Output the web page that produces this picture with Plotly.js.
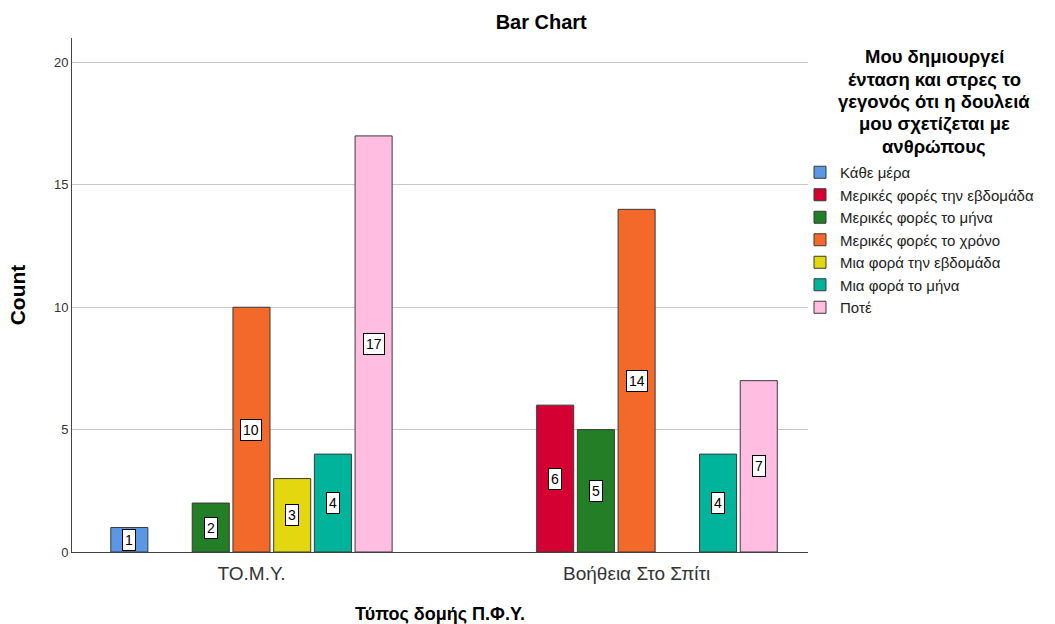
<!DOCTYPE html>
<html>
<head>
<meta charset="utf-8">
<script src="https://cdn.plot.ly/plotly-3.0.1.min.js"></script>
<style>html,body{margin:0;padding:0;background:#fff;}#chart{width:1055px;height:624px;}</style>
</head>
<body>
<div id="chart"></div>
<script>
const categories = ['ΤΟ.Μ.Υ.', 'Βοήθεια Στο Σπίτι'];
const seriesNames = [
  'Κάθε μέρα',
  'Μερικές φορές την εβδομάδα',
  'Μερικές φορές το μήνα',
  'Μερικές φορές το χρόνο',
  'Μια φορά την εβδομάδα',
  'Μια φορά το μήνα',
  'Ποτέ'
];
const kathemera = [1, null];
const merikesEvdomada = [null, 6];
const merikesMina = [2, 5];
const merikesXrono = [10, 14];
const miaEvdomada = [3, null];
const miaMina = [4, 4];
const pote = [17, 7];
const seriesValues = [kathemera, merikesEvdomada, merikesMina, merikesXrono, miaEvdomada, miaMina, pote];
const colors = ['#5a97e6', '#d50032', '#237f25', '#f2692a', '#e3d710', '#00b49b', '#ffbee1'];
const yTicks = [0, 5, 10, 15, 20];
const legendTitleLines = ['Μου δημιουργεί', 'ένταση και στρες το', 'γεγονός ότι η δουλειά', 'μου σχετίζεται με', 'ανθρώπους'];

const FONT = 'Liberation Sans, Arial, sans-serif';
const margin = {l: 72, r: 247, t: 38, b: 72};
const W = 1055, H = 624;
const xRange = [-0.466, 1.445];
const bargap = 0.26;
const plotW = W - margin.l - margin.r;
const plotH = H - margin.t - margin.b;
const slotPx = (1 - bargap) / seriesNames.length * plotW / (xRange[1] - xRange[0]);
const px2x = p => (p - margin.l) / plotW;
const px2y = p => 1 - (p - margin.t) / plotH;

const traces = seriesNames.map((name, i) => ({
  type: 'bar',
  name: name,
  x: categories,
  y: seriesValues[i],
  marker: {color: colors[i], line: {color: '#3a3a3a', width: 1}},
  hoverinfo: 'none'
}));

const annotations = [];
seriesValues.forEach((vals, i) => {
  vals.forEach((v, j) => {
    if (v === null) return;
    annotations.push({
      x: categories[j], y: v / 2, xref: 'x', yref: 'y',
      text: String(v), showarrow: false,
      xshift: (i - (seriesNames.length - 1) / 2) * slotPx,
      bgcolor: '#ffffff', bordercolor: '#000000', borderwidth: 1, borderpad: 2,
      font: {family: FONT, size: 14, color: '#000'}
    });
  });
});
legendTitleLines.forEach((line, k) => {
  annotations.push({
    x: px2x(934), y: px2y(57 + k * 22.3), xref: 'paper', yref: 'paper',
    xanchor: 'center', yanchor: 'middle', showarrow: false,
    text: '<b>' + line + '</b>',
    font: {family: FONT, size: 18.5, color: '#000'}
  });
});

const layout = {
  width: W, height: H,
  margin: margin,
  paper_bgcolor: '#fff', plot_bgcolor: '#fff',
  font: {family: FONT, color: '#000'},
  title: {text: '<b>Bar Chart</b>', x: 0.513, xref: 'container', y: 0.965, yref: 'container', yanchor: 'middle',
    font: {size: 20, color: '#000'}},
  barmode: 'group',
  bargap: bargap,
  bargroupgap: 0.09,
  xaxis: {
    type: 'category', range: xRange,
    showline: true, linecolor: '#444', linewidth: 1,
    ticks: '', showgrid: false, zeroline: false,
    ticklabelstandoff: 4,
    tickfont: {size: 19, color: '#333'},
    title: {text: '<b>Τύπος δομής Π.Φ.Υ.</b>', font: {size: 18, color: '#000'}, standoff: 24}
  },
  yaxis: {
    range: [0, 21], tickvals: yTicks, ticktext: yTicks.map(String),
    showline: true, linecolor: '#444', linewidth: 1,
    showgrid: true, gridcolor: '#c8c8c8', gridwidth: 1, zeroline: false,
    ticks: '', ticklen: 0,
    tickfont: {size: 13, color: '#333'},
    title: {text: '<b>Count</b>', font: {size: 21, color: '#000'}, standoff: 22}
  },
  showlegend: true,
  legend: {
    x: px2x(800), xanchor: 'left', y: px2y(156), yanchor: 'top',
    xref: 'paper', yref: 'paper',
    bgcolor: 'rgba(0,0,0,0)',
    font: {size: 15, color: '#222'},
    tracegroupgap: 0,
    itemclick: false
  },
  annotations: annotations
};

Plotly.newPlot('chart', traces, layout, {staticPlot: true, displayModeBar: false});
</script>
</body>
</html>
